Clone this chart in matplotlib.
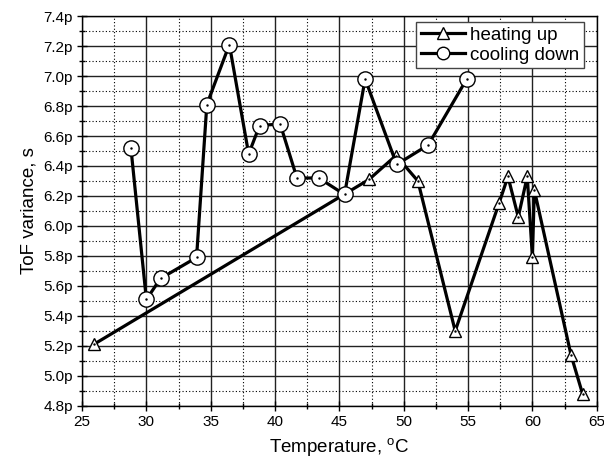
import matplotlib
matplotlib.use("Agg")
import matplotlib.pyplot as plt
from matplotlib.ticker import MultipleLocator, FuncFormatter
from matplotlib.lines import Line2D

plt.rcParams['font.family'] = ['Liberation Sans', 'DejaVu Sans']
plt.rcParams['mathtext.fontset'] = 'custom'
plt.rcParams['mathtext.rm'] = 'Liberation Sans'
plt.rcParams['mathtext.default'] = 'regular'

# Data (ToF variance in picoseconds)
heat_T = [25.9, 47.3, 49.4, 51.1, 54.0, 57.4, 58.1, 58.9, 59.6, 60.0, 60.15, 63.0, 63.9]
heat_v = [5.21, 6.31, 6.47, 6.30, 5.30, 6.15, 6.33, 6.06, 6.33, 5.79, 6.24, 5.14, 4.88]

cool_T = [28.8, 30.0, 31.1, 33.9, 34.7, 36.45, 37.95, 38.8, 40.4, 41.7, 43.4, 45.4, 47.0, 49.45, 51.9, 54.9]
cool_v = [6.52, 5.51, 5.65, 5.79, 6.81, 7.21, 6.48, 6.67, 6.68, 6.32, 6.32, 6.21, 6.98, 6.41, 6.54, 6.98]

fig = plt.figure(figsize=(6.04, 4.68), dpi=100)
ax = fig.add_axes([0.1358, 0.1325, 0.8522, 0.8333])

lw = 2.3
ax.plot(heat_T, heat_v, color='black', lw=lw, marker='^', ms=8,
        mfc='white', mec='black', mew=1.0, zorder=3)
ax.plot(heat_T, heat_v, ls='none', marker='.', ms=1.5, color='black', zorder=4)
ax.plot(cool_T, cool_v, color='black', lw=lw, marker='o', ms=11,
        mfc='white', mec='black', mew=1.0, zorder=5)
ax.plot(cool_T, cool_v, ls='none', marker='.', ms=1.5, color='black', zorder=6)

ax.set_xlim(25, 65)
ax.set_ylim(4.8, 7.4)
ax.xaxis.set_major_locator(MultipleLocator(5))
ax.xaxis.set_minor_locator(MultipleLocator(2.5))
ax.yaxis.set_major_locator(MultipleLocator(0.2))
ax.yaxis.set_minor_locator(MultipleLocator(0.1))
ax.yaxis.set_major_formatter(FuncFormatter(lambda v, p: f"{v:.1f}p"))

ax.grid(True, which='major', color='#222222', lw=1.0, ls='-')
ax.grid(True, which='minor', color='black', lw=0.8, ls=(0, (1, 2)))
ax.set_axisbelow(True)

ax.tick_params(which='major', direction='inout', length=7, width=1.0, labelsize=11,
               top=False, right=False, pad=3)
ax.tick_params(which='minor', direction='inout', length=4, width=1.0,
               top=False, right=False)
for s in ax.spines.values():
    s.set_linewidth(1.0)
    s.set_color('black')

ax.set_xlabel(r'Temperature, $^{o}$C', fontsize=13.5, labelpad=5)
ax.set_ylabel('ToF variance, s', fontsize=13.5, labelpad=4)

handles = [
    Line2D([], [], color='black', lw=lw, marker='^', ms=8, mfc='white', mec='black', mew=1.0),
    Line2D([], [], color='black', lw=lw, marker='o', ms=9, mfc='white', mec='black', mew=1.0),
]
leg = ax.legend(handles, ['heating up', 'cooling down'], loc='upper right',
                fontsize=13.5, frameon=True, fancybox=False, framealpha=1,
                edgecolor='#444444', borderpad=0.25, labelspacing=0.15,
                handlelength=2.35, handletextpad=0.3, borderaxespad=0.0,
                bbox_to_anchor=(0.976, 0.985))
leg.get_frame().set_linewidth(1.0)
leg.set_zorder(10)

fig.savefig('out.png', dpi=100)
